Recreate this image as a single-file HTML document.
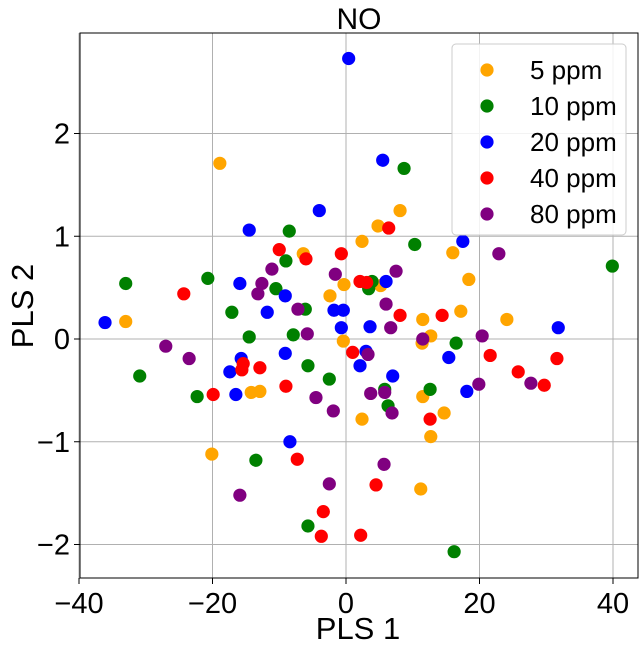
<!DOCTYPE html>
<html><head><meta charset="utf-8"><style>
html,body{margin:0;padding:0;background:#fff;}
svg{display:block;font-family:"Liberation Sans",Arial,sans-serif;}
</style></head><body>
<svg id="chart" width="644" height="649" viewBox="0 0 644 649" xmlns="http://www.w3.org/2000/svg"></svg>
<script>
const seriesNames = ["5 ppm","10 ppm","20 ppm","40 ppm","80 ppm"];
const seriesColors = ["orange","green","blue","red","purple"];
const xTicks = [-40,-20,0,20,40];
const yTicks = [-2,-1,0,1,2];
const orangeX = [-18.9,-33.0,8.1,4.8,2.4,16.0,-6.4,18.4,5.2,-0.3,-2.4,17.2,11.5,24.1,-0.4,12.7,11.4,-14.2,-12.9,2.4,11.5,14.7,12.7,-20.1,11.2];
const orangeY = [1.71,0.17,1.25,1.10,0.95,0.84,0.83,0.58,0.52,0.53,0.42,0.27,0.19,0.19,-0.02,0.03,-0.04,-0.52,-0.51,-0.78,-0.56,-0.72,-0.95,-1.12,-1.46];
const greenX = [8.7,10.3,39.9,-8.5,-9.0,-33.0,-20.7,-10.5,-17.1,-6.1,-14.5,-7.9,3.9,3.4,16.5,-5.7,-30.9,-2.5,-22.3,5.8,6.3,12.6,-13.5,-5.7,16.2];
const greenY = [1.66,0.92,0.71,1.05,0.76,0.54,0.59,0.49,0.26,0.29,0.02,0.04,0.56,0.49,-0.04,-0.26,-0.36,-0.39,-0.56,-0.49,-0.65,-0.49,-1.18,-1.82,-2.07];
const blueX = [0.4,5.5,-4.0,-14.5,17.5,-15.9,-9.1,-11.8,-36.1,6.0,-1.8,-0.4,-0.7,3.6,31.8,3.0,2.1,15.4,-15.7,-17.4,-9.1,-16.5,7.0,18.1,-8.4];
const blueY = [2.73,1.74,1.25,1.06,0.95,0.54,0.42,0.26,0.16,0.56,0.28,0.28,0.11,0.12,0.11,-0.12,-0.26,-0.18,-0.19,-0.32,-0.14,-0.54,-0.36,-0.51,-1.00];
const redX = [-10.0,-6.0,6.4,-0.7,2.1,3.1,-24.3,8.1,14.4,1.0,21.6,31.6,-15.4,-15.6,-12.9,-9.0,-19.9,12.6,25.8,29.7,-7.3,4.5,-3.4,-3.7,2.2];
const redY = [0.87,0.78,1.08,0.83,0.56,0.55,0.44,0.23,0.23,-0.13,-0.16,-0.19,-0.24,-0.30,-0.28,-0.46,-0.54,-0.78,-0.32,-0.45,-1.17,-1.42,-1.68,-1.92,-1.91];
const purpleX = [22.9,-11.1,-1.6,7.5,-12.6,-13.2,6.0,-7.2,6.7,-5.8,11.5,20.4,3.3,-27.0,-23.5,-4.5,-1.9,3.7,5.8,6.9,19.9,27.7,5.7,-2.5,-15.9];
const purpleY = [0.83,0.68,0.63,0.66,0.54,0.44,0.34,0.29,0.11,0.05,0.00,0.03,-0.15,-0.07,-0.19,-0.57,-0.70,-0.53,-0.52,-0.72,-0.44,-0.43,-1.22,-1.41,-1.52];

const svg = document.getElementById('chart');
const NS = 'http://www.w3.org/2000/svg';
const L=80, R=638, T=33, B=578;
function sx(v){ return 346 + v*6.675; }
function sy(v){ return 339 - v*102.75; }
function mk(tag, attrs, parent){
  const e = document.createElementNS(NS, tag);
  for (const k in attrs) e.setAttribute(k, attrs[k]);
  (parent||svg).appendChild(e);
  return e;
}
function fmt(v){ return v<0 ? '\u2212'+Math.abs(v) : String(v); }

xTicks.forEach(v=>{
  const g = mk('line',{x1:sx(v),x2:sx(v),y1:T,y2:B,stroke:'#b0b0b0','stroke-width':1});
  
  
});
yTicks.forEach(v=>{
  const g = mk('line',{x1:L,x2:R,y1:sy(v),y2:sy(v),stroke:'#b0b0b0','stroke-width':1});
  
  
});

const xs=[orangeX,greenX,blueX,redX,purpleX], ys=[orangeY,greenY,blueY,redY,purpleY];
xs.forEach((arr,si)=>{
  const grp = mk('g',{});
  
  
  arr.forEach((x,i)=>{
    const c = mk('circle',{cx:sx(x),cy:sy(ys[si][i]),r:6.6,fill:seriesColors[si]},grp);
    
    
  });
});

const frame = mk('rect',{x:L,y:T,width:R-L,height:B-T,fill:'none',stroke:'#000','stroke-width':1});



xTicks.forEach(v=>{
  mk('line',{x1:sx(v),x2:sx(v),y1:B,y2:B+6,stroke:'#000'});
  const t = mk('text',{x:sx(v),y:B+35,'text-anchor':'middle','font-size':29});
  t.textContent = fmt(v);
  
  
});
yTicks.forEach(v=>{
  mk('line',{x1:L-6,x2:L,y1:sy(v),y2:sy(v),stroke:'#000'});
  const t = mk('text',{x:L-10,y:sy(v)+10,'text-anchor':'end','font-size':29});
  t.textContent = fmt(v);
  
  
});

const title = mk('text',{x:359,y:29,'text-anchor':'middle','font-size':30});
title.textContent='NO';


const xt = mk('text',{x:358,y:639,'text-anchor':'middle','font-size':31});
xt.textContent='PLS 1';


const yt = mk('text',{x:0,y:0,'text-anchor':'middle','font-size':31,transform:'translate(33,306) rotate(-90)'});
yt.textContent='PLS 2';



const lg = mk('g',{});


mk('rect',{x:452,y:44,width:174,height:191,rx:4,fill:'#fff','fill-opacity':0.85,stroke:'#cccccc'},lg);
seriesNames.forEach((n,i)=>{
  const y = 70 + i*36;
  const e = mk('g',{},lg);
  
  
  mk('circle',{cx:487,cy:y,r:6.6,fill:seriesColors[i]},e);
  const t = mk('text',{x:530,y:y+9,'font-size':26},e);
  t.textContent = n;
});
</script>
</body></html>
